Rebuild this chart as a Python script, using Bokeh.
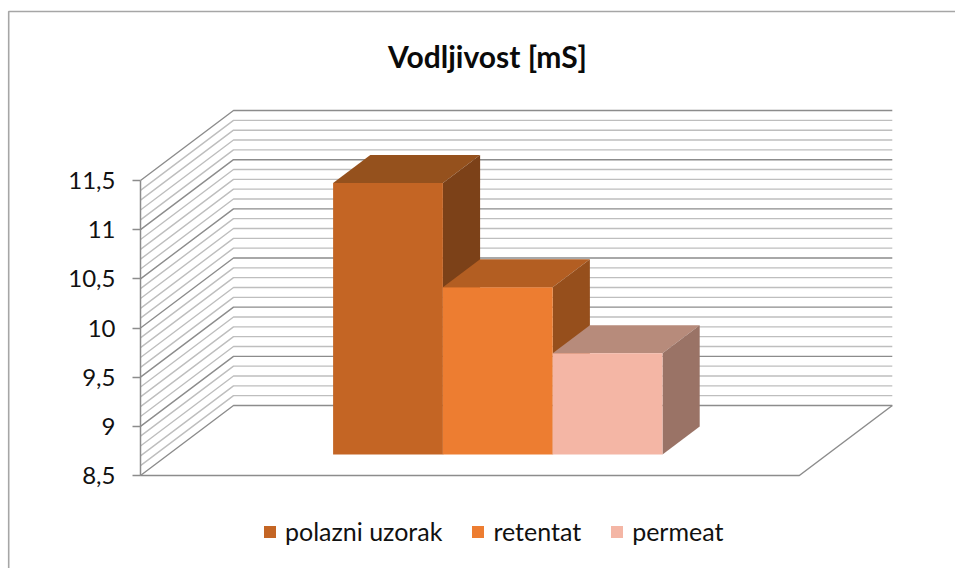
from bokeh.embed import file_html
from bokeh.resources import INLINE
from bokeh.plotting import figure
from bokeh.core.properties import value
from bokeh.models import Range1d, FixedTicker, Legend, LegendItem

title_text = "Vodljivost [mS]"
series = ["polazni uzorak", "retentat", "permeat"]
values = [11.26, 10.2, 9.53]
front_colors = ["#C46524", "#ED7D31", "#F4B6A5"]
top_colors = ["#95511D", "#B35E22", "#B78B7B"]
side_colors = ["#7C4118", "#964F1C", "#9A7366"]
major_ticks = [8.5, 9, 9.5, 10, 10.5, 11, 11.5]
minor_ticks = [8.6, 8.7, 8.8, 8.9, 9.1, 9.2, 9.3, 9.4, 9.6, 9.7, 9.8, 9.9,
               10.1, 10.2, 10.3, 10.4, 10.6, 10.7, 10.8, 10.9,
               11.1, 11.2, 11.3, 11.4]
tick_labels = ["8,5", "9", "9,5", "10", "10,5", "11", "11,5"]

# Oblique projection of Excel's 3-D column chart, in axis units
SLOT_PX, UNIT_PX = 109.8, 98.33
ORIGIN_X, ORIGIN_Y = 140, 475
DEPTH_X, DEPTH_Y = 93 / SLOT_PX, 70 / UNIT_PX
FLOOR_SLOTS = 6
BAR_START = 1.5
Z0, Z1 = 0.3, 0.7
BASE = major_ticks[0]
TOP = major_ticks[-1]
W, H = 955, 568


def px(x, z=0.0):
    return x + z * DEPTH_X


def py(v, z=0.0):
    return v + z * DEPTH_Y


def sx(pixel):
    return (pixel - ORIGIN_X) / SLOT_PX


def sy(pixel):
    return BASE + (ORIGIN_Y - pixel) / UNIT_PX


p = figure(width=W, height=H, output_backend="svg", toolbar_location=None,
           x_range=Range1d(sx(0), sx(W)), y_range=Range1d(sy(H), sy(0)),
           x_axis_location=None, min_border=0, outline_line_color=None)
p.grid.visible = False
p.background_fill_color = "white"
p.border_fill_color = "white"

ax = p.yaxis[0]
ax.fixed_location = 0
ax.bounds = (BASE, TOP)
ax.ticker = FixedTicker(ticks=major_ticks)
ax.major_label_overrides = dict(zip(major_ticks, tick_labels))
ax.axis_line_color = "#8C8C8C"
ax.axis_line_width = 1.5
ax.major_tick_line_color = "#8C8C8C"
ax.major_tick_line_width = 1.5
ax.major_tick_in = 0
ax.major_tick_out = 8
ax.minor_tick_line_color = None
ax.major_label_standoff = 17
ax.major_label_text_font = "Lato"
ax.major_label_text_font_size = "24px"
ax.major_label_text_color = "#111111"

# chart-area border: only its left and top edges are in view
p.line([sx(8.2), sx(8.2), sx(W)], [sy(H), sy(11), sy(11)], line_color="#A6A6A6", line_width=1.6)


def wall_lines(ticks):
    xs = [[px(0), px(0, 1), px(FLOOR_SLOTS, 1)] for _ in ticks]
    ys = [[py(t), py(t, 1), py(t, 1)] for t in ticks]
    return xs, ys


xs, ys = wall_lines(minor_ticks)
p.multi_line(xs, ys, line_color="#BEBEBE", line_width=1.4)
xs, ys = wall_lines(major_ticks)
p.multi_line(xs, ys, line_color="#8C8C8C", line_width=1.4)

# floor outline
p.line([px(0), px(FLOOR_SLOTS), px(FLOOR_SLOTS, 1)],
       [py(BASE), py(BASE), py(BASE, 1)], line_color="#8C8C8C", line_width=1.5)

items = []
for i, (name, v) in enumerate(zip(series, values)):
    a, b = BAR_START + i, BAR_START + i + 1
    p.patch([px(a, Z0), px(b, Z0), px(b, Z1), px(a, Z1)],
            [py(v, Z0), py(v, Z0), py(v, Z1), py(v, Z1)],
            fill_color=top_colors[i], line_color=None)
    p.patch([px(b, Z0), px(b, Z1), px(b, Z1), px(b, Z0)],
            [py(BASE, Z0), py(BASE, Z1), py(v, Z1), py(v, Z0)],
            fill_color=side_colors[i], line_color=None)
    r = p.quad(left=px(a, Z0), right=px(b, Z0), bottom=py(BASE, Z0), top=py(v, Z0),
               fill_color=front_colors[i], line_color=None)
    items.append(LegendItem(label=name, renderers=[r]))

legend = Legend(items=items, orientation="horizontal", location=(262, 22),
                glyph_width=15, glyph_height=15, label_standoff=8, spacing=28,
                padding=0, margin=0, border_line_color=None,
                background_fill_alpha=0,
                label_text_font="Lato", label_text_font_size="25px",
                label_text_color="#111111")
p.add_layout(legend)

p.text([sx(487)], [sy(55)], text=[title_text], text_align="center",
       text_baseline="middle", text_font=value("Lato"), text_font_size="30px",
       text_font_style="bold", text_color="#0A0A0A")

open("out.html", "w").write(file_html(p, INLINE))
